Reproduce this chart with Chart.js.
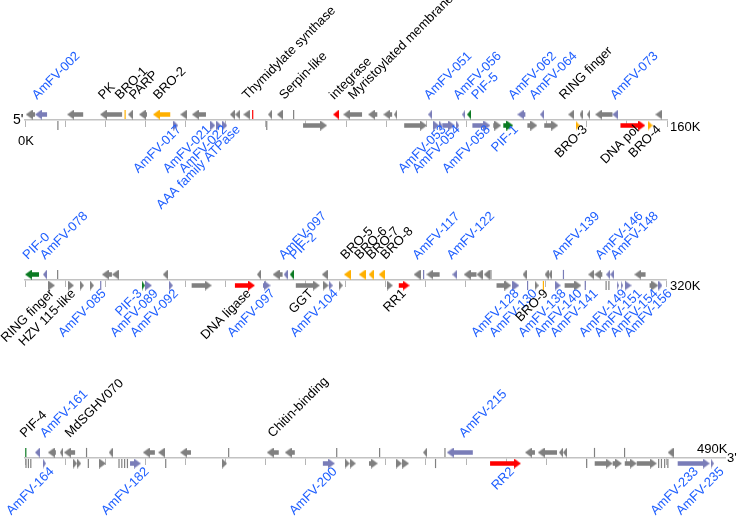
<!DOCTYPE html>
<html><head><meta charset="utf-8">
<script src="https://cdn.jsdelivr.net/npm/chart.js@4.4.1/dist/chart.umd.min.js"></script>
<style>
html,body{margin:0;padding:0;background:#fff;}
#wrap{position:relative;width:738px;height:518px;}
#wrap canvas{position:absolute;left:0;top:0;}
</style>
</head><body>
<div id="wrap">
<canvas id="c1" width="738" height="518"></canvas>
<canvas id="c2" width="738" height="518"></canvas>
<canvas id="c3" width="738" height="518"></canvas>
</div>
<script>
// ---------- DATA (kb) ----------
// genes: [start kb, end kb, strand (-1 = upper/leftward, 1 = lower/rightward), kind]
// kind: g = other ORF, s = AmFV-specific, o = BRO, r = replication/nucleotide, G = PIF
const row1Range = [0, 160];
const row2Range = [160, 320];
const row3Range = [320, 494.6];

const row1Genes = [
 [0.2,2.5,-1,'g'],[2.5,5.5,-1,'s'],[10.5,14.5,-1,'g'],[18.7,24.2,-1,'g'],[24.7,25.2,-1,'o'],[25.7,26.9,-1,'g'],
 [28.4,30.4,-1,'g'],[31.9,36.2,-1,'o'],[38.7,40.4,-1,'g'],[41.6,45.1,-1,'g'],[51.1,52.4,-1,'g'],[52.4,53.6,-1,'g'],
 [54.4,56.1,-1,'g'],[56.6,56.9,-1,'r'],[60.6,61.6,-1,'g'],[62.8,64.3,-1,'g'],[66.8,67.1,-1,'g'],[76.8,78.3,-1,'r'],
 [79.3,84.0,-1,'g'],[85.5,87.8,-1,'g'],[89.3,91.5,-1,'g'],[92.0,92.8,-1,'g'],[100.5,101.5,-1,'s'],[109.0,109.7,-1,'s'],
 [110.2,111.2,-1,'G'],[122.7,124.7,-1,'s'],[128.4,129.4,-1,'s'],[135.4,136.9,-1,'g'],[138.2,138.9,-1,'g'],
 [140.1,140.9,-1,'g'],[142.1,146.4,-1,'g'],[146.4,147.9,-1,'s'],[157.1,158.9,-1,'g'],
 [8.0,8.4,1,'g'],[36.9,38.2,1,'s'],[46.1,47.4,1,'s'],[47.6,48.9,1,'s'],[49.1,50.4,1,'s'],[60.1,60.4,1,'g'],
 [69.3,75.3,1,'g'],[94.5,100.2,1,'g'],[101.7,103.2,1,'s'],[103.2,104.0,1,'s'],[104.0,107.2,1,'s'],[107.5,108.2,1,'s'],
 [111.5,116.0,1,'s'],[116.7,118.7,1,'g'],[119.2,121.7,1,'G'],[125.2,127.7,1,'g'],[129.4,132.9,1,'g'],
 [137.2,138.2,1,'o'],[148.4,154.6,1,'r'],[155.1,156.4,1,'o']
];
const row2Genes = [
 [160.0,163.5,-1,'G'],[164.5,165.5,-1,'s'],[168.0,168.3,-1,'g'],[179.2,181.7,-1,'g'],[181.7,183.4,-1,'g'],
 [194.4,195.7,-1,'g'],[217.9,218.9,-1,'g'],[221.8,224.3,-1,'g'],[224.6,225.6,-1,'s'],[226.1,227.1,-1,'G'],
 [234.1,235.6,-1,'g'],[239.6,241.3,-1,'o'],[243.3,245.0,-1,'o'],[245.8,247.0,-1,'o'],[248.3,249.8,-1,'o'],
 [257.0,258.8,-1,'g'],[259.3,259.7,-1,'s'],[260.2,263.5,-1,'g'],[266.7,268.0,-1,'s'],[269.5,272.7,-1,'g'],
 [272.7,274.2,-1,'g'],[274.5,276.0,-1,'g'],[276.1,276.5,-1,'g'],[284.2,285.2,-1,'g'],[289.7,290.7,-1,'g'],
 [290.7,291.4,-1,'g'],[294.2,294.6,-1,'s'],[300.6,302.1,-1,'g'],[302.1,304.1,-1,'g'],[305.1,306.1,-1,'s'],
 [306.1,307.2,-1,'s'],[312.1,314.9,-1,'g'],
 [165.7,167.5,1,'g'],[170.7,172.2,1,'g'],[173.7,174.7,1,'g'],[176.2,177.2,1,'g'],[178.7,179.1,1,'s'],
 [189.2,189.9,1,'G'],[189.9,191.7,1,'s'],[195.9,196.9,1,'s'],[201.6,206.6,1,'g'],[212.4,217.4,1,'r'],
 [219.4,221.3,1,'s'],[227.6,233.6,1,'g'],[234.3,235.8,1,'g'],[235.8,236.8,1,'s'],[238.3,239.3,1,'g'],
 [250.3,251.8,1,'g'],[253.3,256.0,1,'r'],[277.7,281.4,1,'g'],[281.7,283.4,1,'s'],[285.2,285.7,1,'s'],
 [287.2,288.2,1,'g'],[289.2,289.6,1,'o'],[292.2,293.7,1,'s'],[294.7,298.9,1,'g'],[299.6,300.1,1,'s'],
 [304.9,305.2,1,'g'],[305.6,305.9,1,'g'],[307.6,308.2,1,'s'],[308.6,309.2,1,'s'],[309.6,311.4,1,'s'],
 [315.9,318.1,1,'g'],[318.1,319.1,1,'s']
];
const row3Genes = [
 [320.0,320.4,-1,'G'],[322.5,323.7,-1,'s'],[325.7,327.7,-1,'g'],[328.7,329.5,-1,'g'],[329.7,332.5,-1,'g'],
 [335.2,335.5,-1,'g'],[340.9,341.9,-1,'g'],[349.4,352.4,-1,'g'],[353.2,354.9,-1,'g'],[358.7,361.4,-1,'g'],
 [370.6,371.0,-1,'g'],[380.3,383.3,-1,'g'],[384.8,387.3,-1,'g'],[397.6,397.9,-1,'g'],[408.3,408.6,-1,'g'],
 [419.3,420.2,-1,'g'],[424.5,425.0,-1,'g'],[425.2,431.7,-1,'s'],[444.7,447.2,-1,'g'],[447.9,452.7,-1,'g'],
 [453.2,454.2,-1,'g'],[454.2,455.2,-1,'g'],[461.9,462.2,-1,'g'],[469.4,469.7,-1,'g'],[480.3,481.8,-1,'g'],
 [320.1,320.4,1,'g'],[320.7,321.0,1,'g'],[321.3,321.6,1,'g'],[324.5,325.2,1,'s'],[332.0,333.0,1,'g'],
 [333.0,334.0,1,'g'],[335.6,336.0,1,'g'],[338.5,340.2,1,'g'],[343.3,343.6,1,'g'],[344.0,344.3,1,'g'],
 [344.7,345.0,1,'g'],[345.3,345.8,1,'g'],[346.2,348.9,1,'s'],[354.9,355.3,1,'g'],[369.1,370.4,1,'g'],
 [394.3,397.3,1,'s'],[399.8,401.0,1,'g'],[401.0,402.5,1,'g'],[405.8,408.0,1,'g'],[412.5,414.0,1,'g'],
 [414.0,415.8,1,'g'],[422.2,422.6,1,'g'],[436.0,443.7,1,'r'],[459.9,460.3,1,'g'],[462.1,466.6,1,'g'],
 [466.6,468.9,1,'g'],[469.6,472.6,1,'g'],[472.6,477.6,1,'g'],[477.9,478.2,1,'g'],[478.6,478.9,1,'g'],
 [479.4,479.7,1,'g'],[480.2,480.5,1,'g'],[482.8,490.8,1,'s'],[491.1,491.8,1,'s']
];

// labels: [text, anchor kb, side, text colour key]
const row1Labels = [
 ['AmFV-002',3.0,'up','b'],['PK',19.5,'up','k'],['BRO-1',23.7,'up','k'],['PARP',27.2,'up','k'],['BRO-2',33.2,'up','k'],
 ['Thymidylate synthase',55.4,'up','k'],['Serpin-like',64.6,'up','k'],['integrase',77.1,'up','k'],
 ['Myristoylated membrane',81.8,'up','k'],['AmFV-051',100.7,'up','b'],['AmFV-056',108.0,'up','b'],['PIF-5',112.5,'up','b'],
 ['AmFV-062',121.7,'up','b'],['AmFV-064',126.9,'up','b'],['RING finger',134.4,'up','k'],['AmFV-073',147.1,'up','b'],
 ['AmFV-017',37.3,'dn','b'],['AmFV-021',44.7,'dn','b'],['AmFV-022',48.7,'dn','b'],['AAA family ATPase',52.0,'dn','b'],
 ['AmFV-053',103.3,'dn','b'],['AmFV-054',106.8,'dn','b'],['AmFV-058',114.3,'dn','b'],['PIF-1',121.3,'dn','b'],
 ['BRO-3',138.5,'dn','k'],['DNA pol',151.4,'dn','k'],['BRO-4',156.9,'dn','k']
];
const row2Labels = [
 ['PIF-0',160.7,'up','b'],['AmFV-078',165.0,'up','b'],['AmFV-097',224.6,'up','b'],['PIF-2',227.3,'up','b'],
 ['BRO-5',240.0,'up','k'],['BRO-6',243.5,'up','k'],['BRO-7',246.5,'up','k'],['BRO-8',250.0,'up','k'],
 ['AmFV-117',258.0,'up','b'],['AmFV-122',266.5,'up','b'],['AmFV-139',292.7,'up','b'],['AmFV-146',303.6,'up','b'],
 ['AmFV-148',307.4,'up','b'],
 ['RING finger',165.6,'dn','k'],['HZV 115-like',171.0,'dn','k'],['AmFV-085',178.6,'dn','b'],['PIF-3',187.6,'dn','b'],
 ['AmFV-089',191.6,'dn','b'],['AmFV-092',196.6,'dn','b'],['DNA ligase',214.8,'dn','k'],['AmFV-097',220.8,'dn','b'],
 ['GGT',230.3,'dn','k'],['AmFV-104',236.5,'dn','b'],['RR1',253.5,'dn','k'],['AmFV-128',281.7,'dn','b'],
 ['AmFV-130',286.2,'dn','b'],['BRO-9',288.9,'dn','k'],['AmFV-138',293.4,'dn','b'],['AmFV-140',297.4,'dn','b'],
 ['AmFV-141',301.4,'dn','b'],['AmFV-149',308.6,'dn','b'],['AmFV-151',312.4,'dn','b'],['AmFV-154',316.4,'dn','b'],
 ['AmFV-156',319.9,'dn','b']
];
const row3Labels = [
 ['PIF-4',320.0,'up','k'],['AmFV-161',325.0,'up','b'],['MdSGHV070',331.2,'up','k'],['Chitin-binding',381.8,'up','k'],
 ['AmFV-215',429.5,'up','b'],
 ['AmFV-164',325.6,'dn','b'],['AmFV-182',349.3,'dn','b'],['AmFV-200',396.2,'dn','b'],['RR2',440.4,'dn','b'],
 ['AmFV-233',486.3,'dn','b'],['AmFV-235',492.7,'dn','b']
];
// end texts per row
const row1Ends = ["5'", '0K', '160K'];
const row2Ends = ['320K'];
const row3Ends = ['490K', "3'"];

// ---------- STYLE ----------
const COLORS = {g:'#808080', s:'#7a7db8', o:'#ffb000', r:'#ff0000', G:'#0b7a22'};
const TEXT_COLORS = {b:'#1f5fff', k:'#000000'};
const FONT_FAMILY = '"Liberation Sans", Arial, sans-serif';

const headCache = {};
function headImg(len, color) {
  const w = Math.max(2, Math.round(len));
  const key = color + w;
  if (headCache[key]) return headCache[key];
  const c = document.createElement('canvas');
  const h = 10;
  c.width = w; c.height = h;
  const g = c.getContext('2d');
  g.fillStyle = color;
  g.beginPath(); g.moveTo(0, 0); g.lineTo(w, h / 2); g.lineTo(0, h); g.closePath(); g.fill();
  headCache[key] = c;
  return c;
}

const labelPlugin = {
  id: 'geneLabels',
  afterDraw(chart, args, opts) {
    const ctx = chart.ctx, xs = chart.scales.x, ys = chart.scales.y;
    const axisY = ys.getPixelForValue(0);
    ctx.save();
    ctx.font = '13px ' + FONT_FAMILY;
    opts.labels.forEach(([t, k, side, c]) => {
      const x = xs.getPixelForValue(k);
      ctx.save();
      ctx.fillStyle = TEXT_COLORS[c];
      if (side === 'up') {
        ctx.translate(x, axisY - 20); ctx.rotate(-Math.PI / 4);
        ctx.textAlign = 'left'; ctx.textBaseline = 'alphabetic';
      } else {
        ctx.translate(x, axisY + opts.dnOffset); ctx.rotate(-Math.PI / 4);
        ctx.textAlign = 'right'; ctx.textBaseline = 'top';
      }
      ctx.fillText(t, 0, 0);
      ctx.restore();
    });
    opts.ends.forEach((e) => {
      const x = xs.getPixelForValue(e.at === 'min' ? xs.min : xs.max) + e.dx;
      ctx.font = e.size + 'px ' + FONT_FAMILY;
      ctx.fillStyle = '#000';
      ctx.textAlign = 'left'; ctx.textBaseline = 'alphabetic';
      ctx.fillText(e.text, x, axisY + e.dy);
    });
    ctx.restore();
  }
};

function buildRow(canvasId, genes, labels, range, axisY, rightPx, dnOffset, ends) {
  const ppk = (rightPx - 25) / (range[1] - range[0]);
  const UP = 0.55, DN = -0.55;
  const shafts = {};
  const pts = [], styles = [], rots = [], cols = [], radii = [];
  genes.forEach(([s, e, strand, kind]) => {
    const col = COLORS[kind];
    const y = strand < 0 ? UP : DN;
    const L = (e - s) * ppk;
    if (L < 2.2) {
      pts.push({x: (s + e) / 2, y}); styles.push('line'); rots.push(90); cols.push(col); radii.push(4.6);
      return;
    }
    const hw = Math.min(L, 6.5);
    const img = headImg(hw, col);
    const half = img.width / 2 / ppk;
    if (strand > 0) { pts.push({x: e - half, y}); rots.push(0); }
    else { pts.push({x: s + half, y}); rots.push(180); }
    styles.push(img); cols.push(col); radii.push(10);
    if (L > img.width + 0.5) {
      const cut = (img.width - 1) / ppk;
      const a = strand > 0 ? s : s + cut;
      const b = strand > 0 ? e - cut : e;
      (shafts[kind] = shafts[kind] || []).push({x: a, y}, {x: b, y}, {x: b, y: null});
    }
  });
  const datasets = [{
    type: 'scatter', data: pts, pointStyle: styles, pointRotation: rots, pointRadius: radii,
    pointBorderColor: cols, pointBackgroundColor: cols, pointBorderWidth: 1.2, clip: false
  }];
  Object.keys(shafts).forEach(k => datasets.push({
    type: 'line', data: shafts[k], borderColor: COLORS[k], borderWidth: 4.5, pointRadius: 0,
    spanGaps: false, clip: false, borderCapStyle: 'butt', tension: 0, fill: false
  }));
  return new Chart(document.getElementById(canvasId), {
    type: 'scatter',
    data: {datasets},
    options: {
      responsive: false, animation: false, devicePixelRatio: 1, events: [],
      layout: {autoPadding: false, padding: {left: 25, right: 738 - rightPx, top: axisY - 10, bottom: 518 - axisY - 7}},
      plugins: {legend: {display: false}, tooltip: {enabled: false}, geneLabels: {labels, ends, dnOffset}},
      scales: {
        x: {
          type: 'linear', min: range[0], max: range[1], position: 'bottom',
          ticks: {display: false, stepSize: 10},
          afterBuildTicks: sc => { sc.ticks = sc.ticks.filter(t => Math.abs(t.value / 10 - Math.round(t.value / 10)) < 1e-6); },
          grid: {display: true, drawOnChartArea: false, drawTicks: true, tickLength: 7, color: '#b5b5b5', lineWidth: 1},
          border: {display: true, color: '#c2c2c2', width: 1.5}
        },
        y: {type: 'linear', min: 0, max: 1, display: false}
      }
    },
    plugins: [labelPlugin]
  });
}

buildRow('c1', row1Genes, row1Labels, row1Range, 120, 667, 3, [
  {text: row1Ends[0], at: 'min', dx: -12, dy: 4, size: 14},
  {text: row1Ends[1], at: 'min', dx: -7, dy: 25, size: 13},
  {text: row1Ends[2], at: 'max', dx: 3, dy: 11, size: 13}
]);
buildRow('c2', row2Genes, row2Labels, row2Range, 280, 666, 7, [
  {text: row2Ends[0], at: 'max', dx: 4, dy: 10, size: 13}
]);
buildRow('c3', row3Genes, row3Labels, row3Range, 458, 725, 7, [
  {text: row3Ends[0], at: 'max', dx: -28, dy: -5, size: 13},
  {text: row3Ends[1], at: 'max', dx: 2, dy: 4, size: 13}
]);
</script>
</body></html>
